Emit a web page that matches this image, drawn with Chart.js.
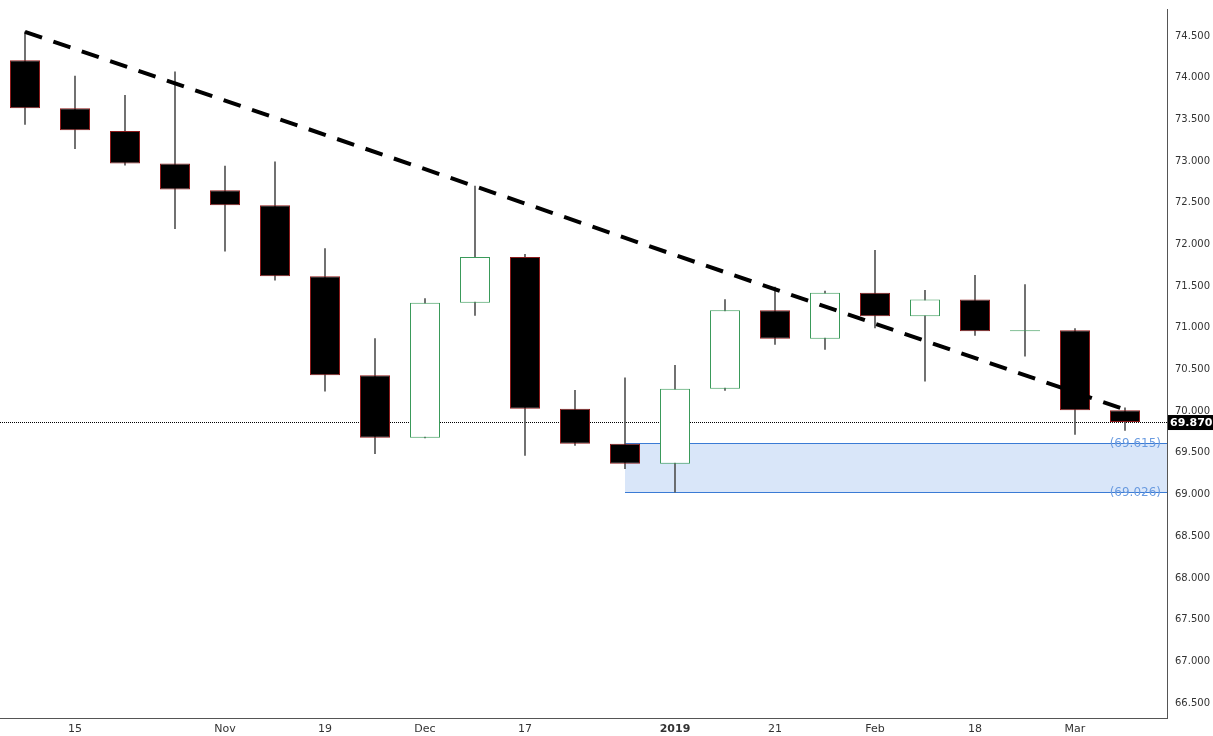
<!DOCTYPE html>
<html><head><meta charset="utf-8">
<script src="https://cdn.jsdelivr.net/npm/chart.js@4"></script>
<style>html,body{margin:0;background:#fff}#w{width:1213px;height:736px}</style>
</head><body><div id="w"><canvas id="c"></canvas></div>
<script>
const xLabels=['','15','','','Nov','','19','','Dec','','17','','','2019','','21','','Feb','','18','','Mar',''];
const opens =[74.21,73.635,73.36,72.97,72.65,72.47,71.62,70.43,69.68,71.30,71.85,70.03,69.61,69.37,70.27,71.21,70.87,71.42,71.14,71.34,70.96,70.97,70.01];
const highs =[74.55,74.02,73.79,74.07,72.94,72.99,71.95,70.87,71.35,72.70,71.88,70.25,70.40,70.55,71.34,71.49,71.44,71.93,71.45,71.63,71.52,70.99,70.04];
const lows  =[73.44,73.15,72.95,72.19,71.92,71.57,70.24,69.49,69.68,71.15,69.47,69.59,69.31,69.03,70.25,70.80,70.74,71.00,70.36,70.91,70.66,69.72,69.77];
const closes=[73.635,73.37,72.97,72.66,72.47,71.62,70.43,69.68,71.30,71.85,70.03,69.61,69.37,70.27,71.21,70.87,71.42,71.14,71.34,70.96,70.97,70.01,69.87];
const trendPts=[{x:0,y:74.55},{x:22,y:70.02}];
const lastPrice=69.87, zoneTop=69.615, zoneBottom=69.026, zoneStart=12;

const up=opens.map((o,i)=>closes[i]>=o);
const overlay={id:'ov',
 beforeDatasetsDraw(ch){const {ctx,chartArea:a,scales:{x,y}}=ch;
  const x0=x.getPixelForValue(zoneStart), t=Math.round(y.getPixelForValue(zoneTop)), b=Math.round(y.getPixelForValue(zoneBottom));
  ctx.save();ctx.fillStyle='rgba(120,165,235,0.28)';ctx.fillRect(x0,t,a.right-x0,b-t);
  ctx.strokeStyle='#3a7bd5';ctx.lineWidth=1;ctx.beginPath();ctx.moveTo(x0,t+.5);ctx.lineTo(a.right,t+.5);ctx.moveTo(x0,b+.5);ctx.lineTo(a.right,b+.5);ctx.stroke();
  ctx.fillStyle='#6a9be0';ctx.font='12px "DejaVu Sans"';ctx.textAlign='right';ctx.textBaseline='middle';
  ctx.fillText('('+zoneTop.toFixed(3)+')',a.right-6,t+1);ctx.fillText('('+zoneBottom.toFixed(3)+')',a.right-6,b+1);
  const p=Math.round(y.getPixelForValue(lastPrice))+.5;
  ctx.strokeStyle='#000';ctx.setLineDash([1,1]);ctx.beginPath();ctx.moveTo(a.left,p);ctx.lineTo(a.right,p);ctx.stroke();ctx.restore();},
 afterDraw(ch){const {ctx,chartArea:a,scales:{y}}=ch;const p=y.getPixelForValue(lastPrice);
  ctx.save();ctx.fillStyle='#000';ctx.fillRect(a.right+1,p-7,45,15);ctx.fillStyle='#fff';ctx.font='bold 11px "DejaVu Sans"';
  ctx.textBaseline='middle';ctx.fillText(lastPrice.toFixed(3),a.right+3,p+1);ctx.restore();}};
new Chart(document.getElementById('c'),{
 data:{datasets:[
  {type:'line',data:trendPts,borderColor:'#000',borderWidth:4,borderDash:[18,12],pointRadius:0,order:0},
  {type:'bar',data:opens.map((o,i)=>({x:i,y:[Math.min(o,closes[i]),Math.max(o,closes[i])]})),grouped:false,barPercentage:0.6,categoryPercentage:1,
   backgroundColor:up.map(u=>u?'#fff':'#000'),borderColor:up.map(u=>u?'#3a9a5a':'#8b1a1a'),borderWidth:1,borderSkipped:false,minBarLength:1,order:1},
  {type:'bar',data:lows.map((l,i)=>({x:i,y:[l,highs[i]]})),grouped:false,barThickness:1,backgroundColor:'#555',order:2}
 ]},
 plugins:[overlay],
 options:{responsive:true,maintainAspectRatio:false,animation:false,
  plugins:{legend:{display:false},tooltip:{enabled:false}},
  scales:{
   x:{type:'linear',min:-0.5,max:22.84,offset:false,grid:{display:false,tickLength:3},border:{color:'#555'},
      afterBuildTicks(s){s.ticks=xLabels.map((l,i)=>({value:i})).filter(t=>xLabels[t.value]!=='');},
      afterFit(s){s.height=18;},
      ticks:{autoSkip:false,maxRotation:0,color:'#333',padding:2,callback:v=>xLabels[v],
        font:c=>({family:'DejaVu Sans',size:11,weight:c.tick&&xLabels[c.tick.value]==='2019'?'bold':'normal'})}},
   y:{position:'right',min:66.32,max:74.824,grid:{display:false,tickLength:5},border:{color:'#555'},
      afterBuildTicks(s){const t=[];for(let v=66.5;v<=74.5001;v+=0.5)t.push({value:v});s.ticks=t;},
      afterFit(s){s.width=46;},
      ticks:{color:'#333',padding:3,font:{family:'DejaVu Sans',size:10},callback:v=>Number(v).toFixed(3)}}
  }}});
</script></body></html>
